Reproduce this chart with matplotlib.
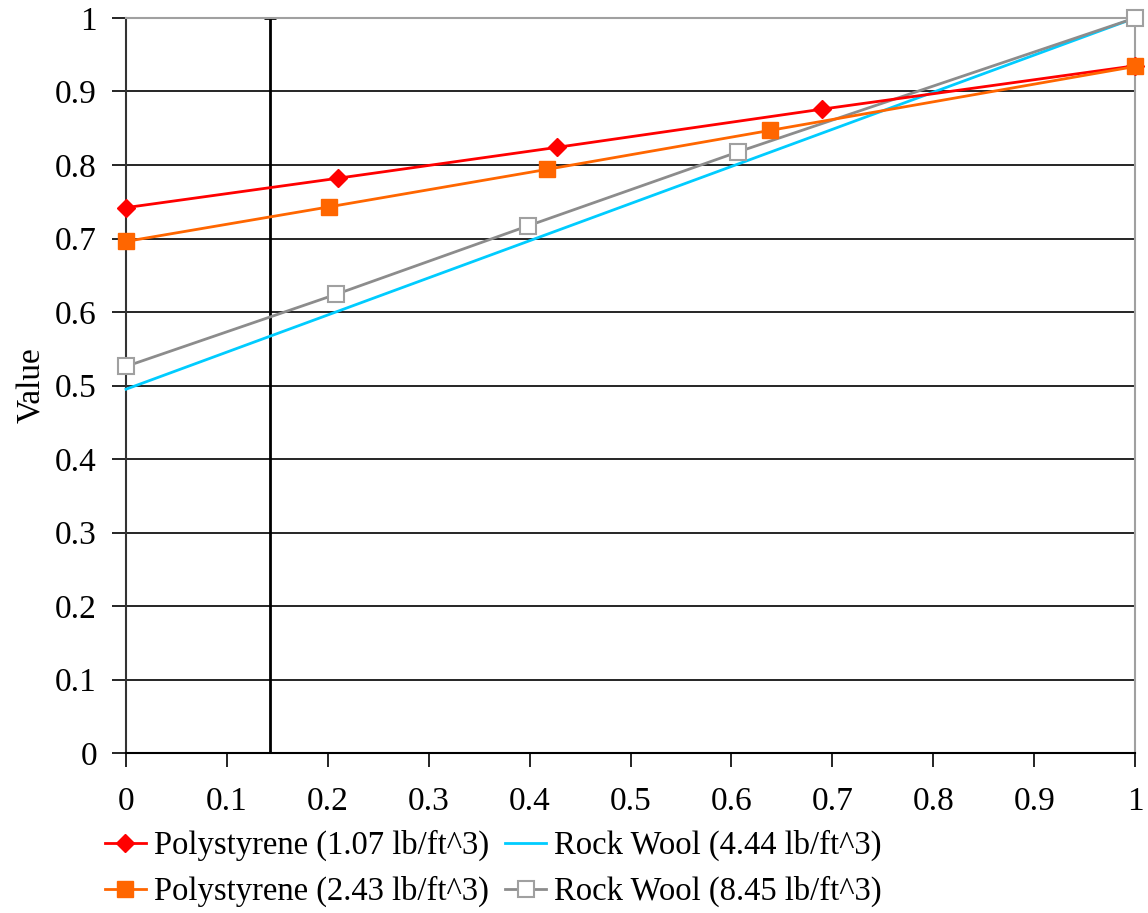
import numpy as np
import matplotlib
matplotlib.use('Agg')
import matplotlib.pyplot as plt
from matplotlib.ticker import FuncFormatter

plt.rcParams['font.family'] = ['Liberation Serif', 'DejaVu Serif']

# series
ps1_x = [0, 0.21, 0.427, 0.69, 1.0]
ps1_y = [0.742, 0.782, 0.824, 0.876, 0.935]
ps2_x = [0, 0.201, 0.417, 0.638, 1.0]
ps2_y = [0.696, 0.743, 0.794, 0.847, 0.934]
rw1_x = [0, 1.0]
rw1_y = [0.495, 1.0]
rw2_x = [0, 0.208, 0.398, 0.607, 1.0]
rw2_y = [0.526, 0.624, 0.717, 0.818, 1.0]
marker_x = 0.143

labels = ['Polystyrene (1.07 lb/ft^3)', 'Polystyrene (2.43 lb/ft^3)',
          'Rock Wool (4.44 lb/ft^3)', 'Rock Wool (8.45 lb/ft^3)']
ticks = np.round(np.arange(0, 1.01, 0.1), 1)

fig = plt.figure(figsize=(11.48, 9.13), dpi=100)
ax = fig.add_axes([0.1098, 0.1752, 0.8789, 0.8051])

for t in ticks[:-1]:
    ax.axhline(t, color='black', lw=1.2, zorder=1)

ax.plot([marker_x, marker_x], [0, 1], color='black', lw=2, marker='_',
        markersize=8, markeredgewidth=2, zorder=2)

l1, = ax.plot(ps1_x, ps1_y, color='#ff0000', lw=2, marker='D', markersize=9,
              zorder=4, clip_on=False)
l3, = ax.plot(rw1_x, rw1_y, color='#00ccff', lw=2, zorder=3, clip_on=False)
l4, = ax.plot(rw2_x, rw2_y, color='#8c8c8c', lw=2, marker='s', markersize=11,
              markerfacecolor='white', markeredgecolor='#a0a0a0', markeredgewidth=1.5,
              zorder=3, clip_on=False)
l2, = ax.plot(ps2_x, ps2_y, color='#ff6600', lw=2, marker='s', markersize=11,
              zorder=5, clip_on=False)

ax.set_xlim(0, 1)
ax.set_ylim(0, 1)
ax.set_xticks(ticks)
ax.set_yticks(ticks)
fmt = FuncFormatter(lambda v, p: '%g' % v)
ax.xaxis.set_major_formatter(fmt)
ax.yaxis.set_major_formatter(fmt)
ax.tick_params(axis='both', labelsize=24, length=10, width=1.2, direction='out')
ax.tick_params(axis='x', pad=14)
ax.tick_params(axis='y', pad=11)
ax.set_ylabel('Value', fontsize=24, labelpad=6)

ax.spines['left'].set_color('#333333')
ax.spines['bottom'].set_color('black')
ax.spines['top'].set_color('#a0a0a0')
ax.spines['right'].set_color('#a0a0a0')
for s in ax.spines.values():
    s.set_linewidth(1.5)

fig.legend([l1, l2, l3, l4], labels, ncol=2, loc='upper left',
           bbox_to_anchor=(0.0915, 0.091), fontsize=23.5, frameon=False,
           handlelength=1.25, handletextpad=0.25, columnspacing=0.5,
           labelspacing=0.45, borderpad=0, borderaxespad=0)

fig.savefig('out.png', dpi=100)
